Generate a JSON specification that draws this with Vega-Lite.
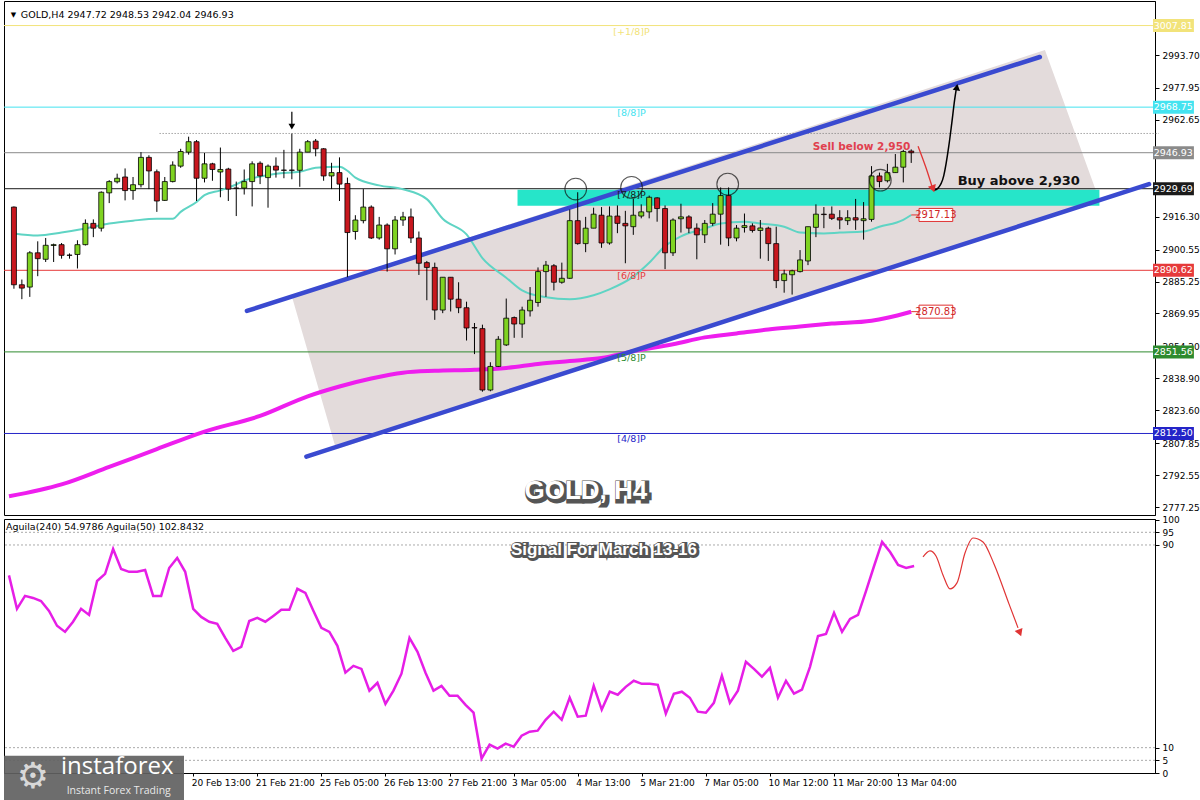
{
"$schema": "https://vega.github.io/schema/vega-lite/v6.json",
"padding": 0,
"background": "white",
"spacing": 4,
"bounds": "flush",
"config": {"view": {"stroke": "#000", "strokeWidth": 1}, "axis": {"grid": false, "labelFont": "DejaVu Sans", "labelFontSize": 9, "labelColor": "#000", "domainColor": "#000", "tickColor": "#000", "titleOpacity": 0, "titleFontSize": 1}},
"datasets": {
"candles": [
{"i":0,"o":2920.9,"h":2921.2,"l":2881.8,"c":2883.7},{"i":1,"o":2883.7,"h":2886.2,"l":2876.8,"c":2882.1},{"i":2,"o":2882.6,"h":2899.8,"l":2877.9,"c":2899.0},{"i":3,"o":2899.0,"h":2904.5,"l":2887.8,"c":2896.2},{"i":4,"o":2895.9,"h":2906.1,"l":2894.6,"c":2902.6},{"i":5,"o":2902.5,"h":2903.4,"l":2894.6,"c":2902.9},{"i":6,"o":2902.9,"h":2903.7,"l":2896.2,"c":2897.8},{"i":7,"o":2897.9,"h":2898.7,"l":2896.2,"c":2897.8},{"i":8,"o":2898.2,"h":2905.0,"l":2891.5,"c":2902.9},{"i":9,"o":2902.9,"h":2915.0,"l":2902.5,"c":2913.1},
{"i":10,"o":2913.1,"h":2915.0,"l":2906.5,"c":2910.8},{"i":11,"o":2910.8,"h":2928.4,"l":2909.2,"c":2928.0},{"i":12,"o":2927.7,"h":2933.8,"l":2922.8,"c":2933.1},{"i":13,"o":2933.0,"h":2936.9,"l":2932.2,"c":2934.7},{"i":14,"o":2935.3,"h":2939.4,"l":2924.1,"c":2928.8},{"i":15,"o":2928.8,"h":2935.3,"l":2924.4,"c":2931.6},{"i":16,"o":2931.6,"h":2947.2,"l":2930.3,"c":2944.7},{"i":17,"o":2944.7,"h":2945.7,"l":2929.5,"c":2938.2},{"i":18,"o":2937.8,"h":2938.9,"l":2918.6,"c":2923.8},{"i":19,"o":2924.1,"h":2935.3,"l":2923.8,"c":2933.1},
{"i":20,"o":2933.1,"h":2942.8,"l":2932.7,"c":2941.0},{"i":21,"o":2940.5,"h":2948.8,"l":2939.7,"c":2947.5},{"i":22,"o":2947.2,"h":2954.6,"l":2946.0,"c":2952.2},{"i":23,"o":2952.2,"h":2953.0,"l":2923.8,"c":2934.7},{"i":24,"o":2934.7,"h":2946.8,"l":2932.7,"c":2941.6},{"i":25,"o":2941.6,"h":2942.1,"l":2933.5,"c":2938.9},{"i":26,"o":2937.7,"h":2949.4,"l":2925.6,"c":2938.9},{"i":27,"o":2939.1,"h":2939.7,"l":2923.8,"c":2929.5},{"i":28,"o":2930.0,"h":2933.1,"l":2916.6,"c":2929.9},{"i":29,"o":2930.0,"h":2938.9,"l":2926.9,"c":2933.1},
{"i":30,"o":2933.1,"h":2942.8,"l":2921.2,"c":2941.6},{"i":31,"o":2941.9,"h":2942.8,"l":2931.9,"c":2935.8},{"i":32,"o":2935.0,"h":2941.3,"l":2920.6,"c":2940.5},{"i":33,"o":2940.5,"h":2944.7,"l":2935.0,"c":2938.6},{"i":34,"o":2938.6,"h":2948.3,"l":2934.7,"c":2938.5},{"i":35,"o":2938.6,"h":2956.1,"l":2934.2,"c":2938.5},{"i":36,"o":2938.5,"h":2948.8,"l":2930.6,"c":2947.2},{"i":37,"o":2947.2,"h":2953.0,"l":2947.2,"c":2952.2},{"i":38,"o":2952.5,"h":2953.5,"l":2945.2,"c":2948.8},{"i":39,"o":2948.8,"h":2949.1,"l":2933.5,"c":2935.8},
{"i":40,"o":2935.8,"h":2942.1,"l":2929.5,"c":2937.4},{"i":41,"o":2937.4,"h":2944.7,"l":2923.8,"c":2931.9},{"i":42,"o":2932.2,"h":2935.0,"l":2887.3,"c":2908.7},{"i":43,"o":2909.2,"h":2917.0,"l":2905.3,"c":2914.7},{"i":44,"o":2914.4,"h":2929.5,"l":2913.1,"c":2920.9},{"i":45,"o":2920.9,"h":2921.7,"l":2905.6,"c":2906.1},{"i":46,"o":2906.1,"h":2916.2,"l":2905.3,"c":2912.3},{"i":47,"o":2912.3,"h":2913.1,"l":2890.0,"c":2900.9},{"i":48,"o":2900.9,"h":2916.6,"l":2898.2,"c":2914.7},{"i":49,"o":2914.7,"h":2918.6,"l":2911.9,"c":2916.2},
{"i":50,"o":2916.2,"h":2920.2,"l":2903.7,"c":2906.1},{"i":51,"o":2906.1,"h":2909.2,"l":2888.4,"c":2894.0},{"i":52,"o":2894.3,"h":2895.1,"l":2876.3,"c":2892.0},{"i":53,"o":2892.0,"h":2894.3,"l":2866.9,"c":2871.6},{"i":54,"o":2871.6,"h":2887.3,"l":2870.1,"c":2887.3},{"i":55,"o":2887.3,"h":2887.3,"l":2870.9,"c":2876.8},{"i":56,"o":2876.8,"h":2884.9,"l":2870.1,"c":2872.7},{"i":57,"o":2872.7,"h":2875.6,"l":2857.0,"c":2863.0},{"i":58,"o":2863.2,"h":2865.4,"l":2850.5,"c":2863.0},{"i":59,"o":2862.7,"h":2864.6,"l":2832.5,"c":2833.3},
{"i":60,"o":2833.3,"h":2846.6,"l":2832.7,"c":2844.6},{"i":61,"o":2844.6,"h":2859.1,"l":2844.3,"c":2857.6},{"i":62,"o":2854.9,"h":2877.1,"l":2854.4,"c":2867.7},{"i":63,"o":2868.0,"h":2868.5,"l":2858.3,"c":2864.9},{"i":64,"o":2864.9,"h":2873.2,"l":2858.3,"c":2871.6},{"i":65,"o":2871.2,"h":2882.6,"l":2868.5,"c":2876.3},{"i":66,"o":2875.2,"h":2892.0,"l":2873.2,"c":2890.0},{"i":67,"o":2890.0,"h":2895.1,"l":2877.9,"c":2893.1},{"i":68,"o":2892.8,"h":2893.6,"l":2881.0,"c":2884.9},{"i":69,"o":2884.9,"h":2894.3,"l":2884.2,"c":2886.8},
{"i":70,"o":2886.8,"h":2919.7,"l":2886.5,"c":2914.4},{"i":71,"o":2914.4,"h":2928.0,"l":2902.9,"c":2903.4},{"i":72,"o":2903.4,"h":2916.2,"l":2899.3,"c":2910.8},{"i":73,"o":2910.8,"h":2920.6,"l":2910.8,"c":2917.5},{"i":74,"o":2917.0,"h":2920.9,"l":2901.4,"c":2903.7},{"i":75,"o":2903.7,"h":2921.2,"l":2902.9,"c":2916.6},{"i":76,"o":2916.6,"h":2921.7,"l":2908.4,"c":2913.1},{"i":77,"o":2913.1,"h":2919.1,"l":2894.0,"c":2911.9},{"i":78,"o":2911.5,"h":2924.8,"l":2907.6,"c":2917.0},{"i":79,"o":2916.6,"h":2922.2,"l":2915.5,"c":2918.6},
{"i":80,"o":2918.6,"h":2926.4,"l":2915.5,"c":2925.6},{"i":81,"o":2925.3,"h":2925.6,"l":2913.9,"c":2920.2},{"i":82,"o":2920.2,"h":2921.7,"l":2891.2,"c":2899.0},{"i":83,"o":2899.0,"h":2915.5,"l":2897.5,"c":2914.7},{"i":84,"o":2915.3,"h":2922.5,"l":2908.7,"c":2916.2},{"i":85,"o":2916.2,"h":2917.0,"l":2908.4,"c":2910.8},{"i":86,"o":2910.8,"h":2913.1,"l":2895.9,"c":2907.6},{"i":87,"o":2907.6,"h":2914.7,"l":2903.7,"c":2913.1},{"i":88,"o":2913.1,"h":2922.8,"l":2911.9,"c":2917.5},{"i":89,"o":2917.5,"h":2930.3,"l":2902.9,"c":2926.4},
{"i":90,"o":2926.4,"h":2930.3,"l":2902.2,"c":2906.1},{"i":91,"o":2906.1,"h":2912.3,"l":2904.5,"c":2910.8},{"i":92,"o":2911.1,"h":2917.8,"l":2908.7,"c":2912.0},{"i":93,"o":2911.9,"h":2913.1,"l":2908.7,"c":2909.7},{"i":94,"o":2909.7,"h":2914.7,"l":2896.2,"c":2910.9},{"i":95,"o":2910.8,"h":2911.5,"l":2895.1,"c":2903.4},{"i":96,"o":2903.4,"h":2911.5,"l":2882.1,"c":2885.7},{"i":97,"o":2885.7,"h":2890.9,"l":2879.9,"c":2888.9},{"i":98,"o":2888.5,"h":2890.9,"l":2879.0,"c":2890.4},{"i":99,"o":2890.0,"h":2900.3,"l":2889.6,"c":2895.6},
{"i":100,"o":2895.1,"h":2911.5,"l":2893.1,"c":2911.5},{"i":101,"o":2911.2,"h":2922.2,"l":2906.5,"c":2917.5},{"i":102,"o":2917.5,"h":2920.9,"l":2910.8,"c":2917.3},{"i":103,"o":2917.5,"h":2921.2,"l":2914.7,"c":2915.5},{"i":104,"o":2915.8,"h":2919.4,"l":2910.3,"c":2914.7},{"i":105,"o":2914.4,"h":2919.4,"l":2912.3,"c":2915.8},{"i":106,"o":2915.8,"h":2924.8,"l":2910.0,"c":2914.7},{"i":107,"o":2914.4,"h":2923.3,"l":2905.3,"c":2915.3},{"i":108,"o":2915.0,"h":2940.5,"l":2913.9,"c":2935.8},{"i":109,"o":2935.8,"h":2937.4,"l":2930.3,"c":2933.1},
{"i":110,"o":2933.5,"h":2941.6,"l":2932.7,"c":2937.4},{"i":111,"o":2937.4,"h":2946.3,"l":2937.4,"c":2940.0},{"i":112,"o":2940.0,"h":2948.3,"l":2932.7,"c":2947.5},{"i":113,"o":2947.72,"h":2948.53,"l":2942.04,"c":2946.93}
],
"ma21": [
{"i":0,"p":2908.3},{"i":3,"p":2907.3},{"i":6,"p":2908.7},{"i":9,"p":2910.6},{"i":12,"p":2913.0},{"i":15,"p":2914.4},{"i":18,"p":2915.3},{"i":20,"p":2915.3},{"i":21,"p":2918.6},{"i":23,"p":2923.3},{"i":24,"p":2926.6},{"i":26,"p":2928.9},{"i":28,"p":2931.7},{"i":29,"p":2933.6},{"i":31,"p":2935.5},{"i":33,"p":2936.9},{"i":36,"p":2937.8},{"i":38,"p":2939.7},{"i":41,"p":2940.2},{"i":42,"p":2938.3},{"i":43,"p":2935.0},{"i":46,"p":2931.3},{"i":49,"p":2929.4},{"i":52,"p":2924.7},{"i":54,"p":2915.3},{"i":57,"p":2907.8},{"i":59,"p":2896.5},{"i":62,"p":2887.1},{"i":64,"p":2881.0},{"i":67,"p":2877.7},{"i":70,"p":2876.8},{"i":73,"p":2878.7},{"i":75,"p":2881.5},{"i":78,"p":2887.6},{"i":80,"p":2894.2},{"i":82,"p":2902.2},{"i":84,"p":2906.9},{"i":87,"p":2910.6},{"i":89,"p":2913.0},{"i":92,"p":2913.9},{"i":94,"p":2913.0},{"i":97,"p":2911.5},{"i":99,"p":2908.7},{"i":102,"p":2908.3},{"i":104,"p":2908.7},{"i":107,"p":2909.2},{"i":109,"p":2911.5},{"i":112,"p":2914.8},{"i":113,"p":2917.1}
],
"ma200": [
{"i":-0.62,"p":2782.4},{"i":6,"p":2788.1},{"i":12,"p":2796.5},{"i":18,"p":2805.0},{"i":24,"p":2813.4},{"i":31,"p":2820.9},{"i":37,"p":2830.3},{"i":41,"p":2835.0},{"i":45,"p":2838.8},{"i":49,"p":2841.6},{"i":53,"p":2842.5},{"i":58,"p":2843.0},{"i":62,"p":2843.9},{"i":66,"p":2845.8},{"i":70,"p":2847.2},{"i":74,"p":2848.6},{"i":78,"p":2851.9},{"i":83,"p":2855.2},{"i":87,"p":2858.5},{"i":91,"p":2860.4},{"i":95,"p":2862.3},{"i":99,"p":2863.7},{"i":103,"p":2865.1},{"i":108,"p":2866.5},{"i":110,"p":2867.9},{"i":113,"p":2870.8}
],
"osc": [
{"i":0,"v":78},{"i":1,"v":64.8},{"i":2,"v":69.9},{"i":3,"v":69.1},{"i":4,"v":67.9},{"i":5,"v":64.0},{"i":6,"v":58.1},{"i":7,"v":55.7},{"i":8,"v":59.7},{"i":9,"v":64.8},{"i":10,"v":62.4},{"i":11,"v":75.8},{"i":12,"v":78.6},{"i":13,"v":88.4},{"i":14,"v":80.5},{"i":15,"v":79.4},{"i":16,"v":79.4},{"i":17,"v":80.1},{"i":18,"v":69.9},{"i":19,"v":69.9},{"i":20,"v":80.9},{"i":21,"v":84.9},{"i":22,"v":79.4},{"i":23,"v":64.8},{"i":24,"v":61.6},{"i":25,"v":59.7},{"i":26,"v":58.9},{"i":27,"v":53.3},{"i":28,"v":48.2},{"i":29,"v":49.8},{"i":30,"v":60.0},{"i":31,"v":61.2},{"i":32,"v":59.7},{"i":33,"v":62.0},{"i":34,"v":64.4},{"i":35,"v":64.4},{"i":36,"v":72.7},{"i":37,"v":71.1},{"i":38,"v":64.0},{"i":39,"v":57.3},{"i":40,"v":55.7},{"i":41,"v":50.2},{"i":42,"v":39.6},{"i":43,"v":42.3},{"i":44,"v":41.1},{"i":45,"v":32.5},{"i":46,"v":35.6},{"i":47,"v":27.3},{"i":48,"v":32.5},{"i":49,"v":39.2},{"i":50,"v":53.3},{"i":51,"v":47.8},{"i":52,"v":39.6},{"i":53,"v":32.5},{"i":54,"v":34.4},{"i":55,"v":30.5},{"i":56,"v":30.5},{"i":57,"v":26.9},{"i":58,"v":23.8},{"i":59,"v":5.7},{"i":60,"v":11.2},{"i":61,"v":9.6},{"i":62,"v":11.6},{"i":63,"v":10.4},{"i":64,"v":14.7},{"i":65,"v":16.3},{"i":66,"v":16.7},{"i":67,"v":21.0},{"i":68,"v":24.2},{"i":69,"v":21.0},{"i":70,"v":29.7},{"i":71,"v":22.2},{"i":72,"v":22.6},{"i":73,"v":34.4},{"i":74,"v":25.0},{"i":75,"v":32.1},{"i":76,"v":30.9},{"i":77,"v":34.0},{"i":78,"v":36.4},{"i":79,"v":35.2},{"i":80,"v":35.2},{"i":81,"v":34.8},{"i":82,"v":23.4},{"i":83,"v":31.3},{"i":84,"v":32.1},{"i":85,"v":29.7},{"i":86,"v":24.2},{"i":87,"v":23.8},{"i":88,"v":27.7},{"i":89,"v":38.4},{"i":90,"v":27.7},{"i":91,"v":32.5},{"i":92,"v":43.9},{"i":93,"v":41.1},{"i":94,"v":38.0},{"i":95,"v":41.5},{"i":96,"v":29.7},{"i":97,"v":36.4},{"i":98,"v":31.3},{"i":99,"v":32.9},{"i":100,"v":41.9},{"i":101,"v":54.1},{"i":102,"v":54.9},{"i":103,"v":63.2},{"i":104,"v":55.7},{"i":105,"v":60.8},{"i":106,"v":62.4},{"i":107,"v":71.9},{"i":108,"v":81.7},{"i":109,"v":91.2},{"i":110,"v":87.2},{"i":111,"v":82.1},{"i":112,"v":80.9},{"i":113,"v":81.7}
],
"levels": [
{"p":3007.81,"k":"p1","t":"[+1/8]P"},{"p":2968.75,"k":"p8","t":"[8/8]P"},{"p":2946.93,"k":"px","t":""},{"p":2929.69,"k":"p7","t":"[7/8]P"},{"p":2890.62,"k":"p6","t":"[6/8]P"},{"p":2851.56,"k":"p5","t":"[5/8]P"},{"p":2812.50,"k":"p4","t":"[4/8]P"}
],
"shade": [
{"i":34.96,"top":2878.68,"bot":2878.68},{"i":40.57,"top":2885.63,"bot":2804.97},{"i":129.84,"top":2996.05,"bot":2915.77},{"i":136.7,"top":2924.22,"bot":2924.22}
],
"channel": [
{"i1":29.34,"p1":2871.17,"i2":129.2,"p2":2992.76},{"i1":36.83,"p1":2801.44,"i2":142.95,"p2":2931.87}
],
"circles": [
{"i":70.75,"p":2929.52},{"i":77.78,"p":2930.32},{"i":89.89,"p":2931.87},{"i":109.11,"p":2933.75}
],
"redArrow": [
{"i":113.86,"p":2950.04},{"i":114.86,"p":2939.71},{"i":115.6,"p":2931.0}
],
"blackArrow": [
{"i":115.86,"p":2928.9},{"i":116.35,"p":2929.85},{"i":117.1,"p":2935.95},{"i":117.73,"p":2950.04},{"i":118.1,"p":2960.84},{"i":118.48,"p":2972.57},{"i":118.7,"p":2978.0}
],
"oscArrow": [
{"i":114.11,"v":85.27},{"i":114.98,"v":87.64},{"i":115.73,"v":85.67},{"i":116.6,"v":78.18},{"i":117.48,"v":72.66},{"i":118.35,"v":75.02},{"i":119.35,"v":86.85},{"i":120.35,"v":92.76},{"i":121.6,"v":91.18},{"i":122.97,"v":82.51},{"i":124.84,"v":66.75},{"i":125.97,"v":57.29}
],
"valboxes": [
{"p":2917.13,"t":"2917.13"},{"p":2870.83,"t":"2870.83"}
],
"oscLines": [{"v":95},{"v":90},{"v":10},{"v":5}]
},
"vconcat": [
{
"width": 1151, "height": 514,
"layer": [
{"data":{"name":"shade"},"mark":{"type":"area","color":"#e3dbdb","opacity":1},
 "encoding":{"x":{"field":"i","type":"quantitative","scale":{"domain":[-0.62,143.07],"nice":false,"zero":false},"axis":null},
 "y":{"field":"top","type":"quantitative","scale":{"domain":[2775.86,3017.17],"nice":false,"zero":false},
   "axis":{"orient":"right","values":[2993.70,2977.95,2962.65,2916.30,2900.55,2885.25,2869.95,2854.20,2838.90,2823.60,2807.85,2792.55,2777.25],"format":".2f","tickSize":4,"labelPadding":3,"labelOverlap":false,"labelFontSize":9,"grid":false,"title":null}},
 "y2":{"field":"bot"}}},
{"data":{"values":[{}]},"mark":{"type":"rect","color":"#26e5c9"},
 "encoding":{"x":{"datum":63.42,"type":"quantitative","axis":null},"x2":{"datum":136.7},
 "y":{"datum":2929.24,"type":"quantitative"},"y2":{"datum":2921.48}}},
{"data":{"name":"levels"},"mark":{"type":"rule","strokeWidth":1},
 "encoding":{"y":{"field":"p","type":"quantitative"},
 "color":{"field":"k","type":"nominal","legend":null,"scale":{"domain":["p1","p8","px","p7","p6","p5","p4"],"range":["#f2e37a","#44e3f0","#8a8a8a","#1a1a1a","#e63a3a","#2e8b2e","#2424c8"]}}}},
{"data":{"values":[{}]},"mark":{"type":"rule","color":"#777","strokeDash":[1,2],"strokeWidth":1,"clip":false},
 "encoding":{"x":{"datum":18.35,"type":"quantitative","axis":null},"x2":{"datum":144.2},"y":{"datum":2956.14,"type":"quantitative"}}},
{"data":{"name":"ma200"},"mark":{"type":"line","color":"#ee1eee","strokeWidth":4,"interpolate":"monotone"},
 "encoding":{"x":{"field":"i","type":"quantitative","axis":null},"y":{"field":"p","type":"quantitative"}}},
{"data":{"name":"ma21"},"mark":{"type":"line","color":"#5fd4c4","strokeWidth":2,"interpolate":"monotone"},
 "encoding":{"x":{"field":"i","type":"quantitative","axis":null},"y":{"field":"p","type":"quantitative"}}},
{"data":{"name":"channel"},"mark":{"type":"rule","color":"#3a4ad0","strokeWidth":4.5,"strokeCap":"round"},
 "encoding":{"x":{"field":"i1","type":"quantitative","axis":null},"y":{"field":"p1","type":"quantitative"},"x2":{"field":"i2"},"y2":{"field":"p2"}}},
{"data":{"name":"candles"},"mark":{"type":"rule","color":"#000","strokeWidth":1},
 "encoding":{"x":{"field":"i","type":"quantitative","axis":null},"y":{"field":"l","type":"quantitative"},"y2":{"field":"h"}}},
{"data":{"name":"candles"},"mark":{"type":"bar","width":5,"stroke":"#000","strokeWidth":0.8},
 "encoding":{"x":{"field":"i","type":"quantitative","axis":null},"y":{"field":"o","type":"quantitative"},"y2":{"field":"c"},
 "fill":{"condition":{"test":"datum.c >= datum.o","value":"#7fd321"},"value":"#c8171e"}}},
{"data":{"name":"circles"},"mark":{"type":"point","shape":"circle","filled":false,"stroke":"#111","strokeWidth":1.1,"size":470},
 "encoding":{"x":{"field":"i","type":"quantitative","axis":null},"y":{"field":"p","type":"quantitative"}}},
{"data":{"values":[{}]},"mark":{"type":"rule","color":"#000","strokeWidth":1.2},
 "encoding":{"x":{"datum":35.0,"type":"quantitative","axis":null},"y":{"datum":2966.5,"type":"quantitative"},"y2":{"datum":2960.3}}},
{"data":{"values":[{}]},"mark":{"type":"point","shape":"triangle-down","filled":true,"color":"#000","size":45,"opacity":1},
 "encoding":{"x":{"datum":35.0,"type":"quantitative","axis":null},"y":{"datum":2959.4,"type":"quantitative"}}},
{"data":{"name":"redArrow"},"mark":{"type":"line","color":"#e03434","strokeWidth":1.3,"interpolate":"monotone","clip":false},
 "encoding":{"x":{"field":"i","type":"quantitative","axis":null},"y":{"field":"p","type":"quantitative"},"order":{"field":"p","sort":"descending"}}},
{"data":{"name":"blackArrow"},"mark":{"type":"line","color":"#000","strokeWidth":1.5,"interpolate":"monotone","clip":false},
 "encoding":{"x":{"field":"i","type":"quantitative","axis":null},"y":{"field":"p","type":"quantitative"},"order":{"field":"p"}}},
{"data":{"values":[{}]},"mark":{"type":"point","shape":"triangle-down","filled":true,"color":"#e03434","size":70,"angle":341,"opacity":1},
 "encoding":{"x":{"datum":115.75,"type":"quantitative","axis":null},"y":{"datum":2929.6,"type":"quantitative"}}},
{"data":{"values":[{}]},"mark":{"type":"point","shape":"triangle-up","filled":true,"color":"#000","size":55,"angle":9,"opacity":1},
 "encoding":{"x":{"datum":118.75,"type":"quantitative","axis":null},"y":{"datum":2978.3,"type":"quantitative"}}},
{"data":{"values":[{"t":"Sell below 2,950"}]},"mark":{"type":"text","color":"#e0404e","font":"DejaVu Sans","fontWeight":"bold","fontSize":10.5,"align":"center","baseline":"middle"},
 "encoding":{"x":{"datum":106.74,"type":"quantitative","axis":null},"y":{"datum":2949.6,"type":"quantitative"},"text":{"field":"t"}}},
{"data":{"values":[{"t":"Buy above 2,930"}]},"mark":{"type":"text","color":"#111","font":"DejaVu Sans","fontWeight":"bold","fontSize":13,"align":"left","baseline":"middle","clip":false},
 "encoding":{"x":{"datum":118.85,"type":"quantitative","axis":null},"y":{"datum":2933.6,"type":"quantitative"},"text":{"field":"t"}}},
{"data":{"name":"levels"},"transform":[{"filter":"datum.t != ''"}],"mark":{"type":"text","font":"DejaVu Sans","fontSize":9.5,"align":"center","baseline":"middle","dy":6},
 "encoding":{"x":{"datum":77.78,"type":"quantitative","axis":null},"y":{"field":"p","type":"quantitative"},"text":{"field":"t"},
 "color":{"field":"k","type":"nominal","legend":null,"scale":{"domain":["p1","p8","px","p7","p6","p5","p4"],"range":["#e6c81e","#3cc8e6","#8a8a8a","#1d4d4d","#e03030","#2e8b2e","#2a2ad0"]}}}},
{"data":{"name":"valboxes"},"mark":{"type":"rule","color":"#e03030","strokeWidth":1},
 "encoding":{"x":{"datum":113,"type":"quantitative","axis":null},"x2":{"datum":113.98},"y":{"field":"p","type":"quantitative"}}},
{"data":{"name":"valboxes"},"mark":{"type":"bar","height":13,"fill":"#fff","stroke":"#e03030","strokeWidth":1},
 "encoding":{"x":{"datum":113.98,"type":"quantitative","axis":null},"x2":{"datum":118.23},"y":{"field":"p","type":"quantitative"}}},
{"data":{"name":"valboxes"},"mark":{"type":"text","color":"#d02828","font":"DejaVu Sans","fontSize":10,"align":"center","baseline":"middle"},
 "encoding":{"x":{"datum":116.1,"type":"quantitative","axis":null},"y":{"field":"p","type":"quantitative"},"text":{"field":"t"}}},
{"data":{"name":"levels"},"mark":{"type":"bar","height":13,"clip":false},
 "encoding":{"x":{"datum":143.45,"type":"quantitative","axis":null},"x2":{"datum":148.6},"y":{"field":"p","type":"quantitative"},
 "color":{"field":"k","type":"nominal","legend":null,"scale":{"domain":["p1","p8","px","p7","p6","p5","p4"],"range":["#f0d41e","#40e2f0","#000000","#000000","#e8141c","#1a8a1a","#1616cc"]}}}},
{"data":{"name":"levels"},"mark":{"type":"text","color":"#fff","font":"DejaVu Sans","fontSize":9.5,"align":"center","baseline":"middle","clip":false},
 "encoding":{"x":{"datum":146.0,"type":"quantitative","axis":null},"y":{"field":"p","type":"quantitative"},"text":{"field":"p","type":"quantitative","format":".2f"}}},
{"data":{"values":[{"t":"GOLD,H4  2947.72 2948.53 2942.04 2946.93"}]},"mark":{"type":"text","color":"#000","font":"DejaVu Sans","fontSize":9.5,"align":"left","baseline":"middle"},
 "encoding":{"x":{"datum":0.87,"type":"quantitative","axis":null},"y":{"datum":3012.9,"type":"quantitative"},"text":{"field":"t"}}},
{"data":{"values":[{"t":"▼"}]},"mark":{"type":"text","color":"#000","font":"DejaVu Sans","fontSize":7,"align":"left","baseline":"middle"},
 "encoding":{"x":{"datum":-0.4,"type":"quantitative","axis":null},"y":{"datum":3012.9,"type":"quantitative"},"text":{"field":"t"}}},
{"data":{"values":[{"t":"GOLD, H4"}]},"mark":{"type":"text","color":"#555","stroke":"#555","strokeWidth":5,"font":"Liberation Sans","fontWeight":"bold","fontSize":26,"align":"center","baseline":"middle","dx":2,"dy":2},
 "encoding":{"x":{"datum":72.03,"type":"quantitative","axis":null},"y":{"datum":2784.8,"type":"quantitative"},"text":{"field":"t"}}},
{"data":{"values":[{"t":"GOLD, H4"}]},"mark":{"type":"text","color":"#fff","font":"Liberation Sans","fontWeight":"bold","fontSize":26,"align":"center","baseline":"middle"},
 "encoding":{"x":{"datum":72.03,"type":"quantitative","axis":null},"y":{"datum":2784.8,"type":"quantitative"},"text":{"field":"t"}}}
]
},
{
"width": 1151, "height": 254,
"layer": [
{"data":{"name":"oscLines"},"mark":{"type":"rule","color":"#aaa","strokeDash":[2,2],"strokeWidth":1},
 "encoding":{"y":{"field":"v","type":"quantitative","scale":{"domain":[0,100.25],"nice":false,"zero":false},"axis":{"orient":"right","values":[100,95,90,10,5,0],"tickSize":4,"labelPadding":3,"labelOverlap":false,"labelFontSize":9,"grid":false,"title":null}}}},
{"data":{"name":"osc"},"mark":{"type":"line","color":"#e61ee6","strokeWidth":2.5},
 "encoding":{"x":{"field":"i","type":"quantitative","scale":{"domain":[-0.62,143.07],"nice":false,"zero":false},
   "axis":{"values":[23,31,39,47,55,63,71,79,87,95,103,111],"labelExpr":"['20 Feb 13:00','21 Feb 21:00','25 Feb 05:00','26 Feb 13:00','27 Feb 21:00','3 Mar 05:00','4 Mar 13:00','5 Mar 21:00','7 Mar 05:00','10 Mar 12:00','11 Mar 20:00','13 Mar 04:00'][round((datum.value-23)/8)]","labelAlign":"left","labelPadding":2,"labelOffset":-2,"tickSize":3,"labelFontSize":9,"grid":false,"title":null,"domain":true}},
 "y":{"field":"v","type":"quantitative"}}},
{"data":{"name":"oscArrow"},"mark":{"type":"line","color":"#e03434","strokeWidth":1.2,"interpolate":"monotone","clip":false},
 "encoding":{"x":{"field":"i","type":"quantitative"},"y":{"field":"v","type":"quantitative"}}},
{"data":{"values":[{}]},"mark":{"type":"point","shape":"triangle-down","filled":true,"color":"#e03434","size":70,"angle":339,"opacity":1,"clip":false},
 "encoding":{"x":{"datum":126.2,"type":"quantitative"},"y":{"datum":55.3,"type":"quantitative"}}},
{"data":{"values":[{"t":"Signal For March 13-16"}]},"mark":{"type":"text","color":"#555","stroke":"#555","strokeWidth":4,"font":"Liberation Sans","fontWeight":"bold","fontSize":17,"align":"center","baseline":"middle","dx":1,"dy":1},
 "encoding":{"x":{"datum":74.28,"type":"quantitative"},"y":{"datum":88.0,"type":"quantitative"},"text":{"field":"t"}}},
{"data":{"values":[{"t":"Signal For March 13-16"}]},"mark":{"type":"text","color":"#fff","font":"Liberation Sans","fontWeight":"bold","fontSize":17,"align":"center","baseline":"middle"},
 "encoding":{"x":{"datum":74.28,"type":"quantitative"},"y":{"datum":88.0,"type":"quantitative"},"text":{"field":"t"}}},
{"data":{"values":[{"t":"Aguila(240) 54.9786  Aguila(50) 102.8432"}]},"mark":{"type":"text","color":"#000","font":"DejaVu Sans","fontSize":9.5,"align":"left","baseline":"middle"},
 "encoding":{"x":{"datum":-0.37,"type":"quantitative"},"y":{"datum":97.1,"type":"quantitative"},"text":{"field":"t"}}},
{"data":{"values":[{}]},"mark":{"type":"rect","color":"#616161","opacity":0.92,"clip":false},
 "encoding":{"x":{"datum":-0.62,"type":"quantitative"},"x2":{"datum":21.85},"y":{"datum":6.85,"type":"quantitative"},"y2":{"datum":-10.9}}},
{"data":{"values":[{"t":"⚙"}]},"mark":{"type":"text","color":"#d8d8d8","font":"DejaVu Sans","fontSize":36,"align":"center","baseline":"middle","clip":false},
 "encoding":{"x":{"datum":3.0,"type":"quantitative"},"y":{"datum":-1.5,"type":"quantitative"},"text":{"field":"t"}}},
{"data":{"values":[{"t":"instaforex"}]},"mark":{"type":"text","color":"#ffffff","font":"Open Sans","fontSize":24,"align":"left","baseline":"middle","clip":false},
 "encoding":{"x":{"datum":6.5,"type":"quantitative"},"y":{"datum":2.2,"type":"quantitative"},"text":{"field":"t"}}},
{"data":{"values":[{"t":"Instant Forex Trading"}]},"mark":{"type":"text","color":"#e8e8e8","font":"Open Sans","fontSize":10.5,"align":"left","baseline":"middle","clip":false},
 "encoding":{"x":{"datum":7.2,"type":"quantitative"},"y":{"datum":-7.3,"type":"quantitative"},"text":{"field":"t"}}}
]
}
]
}
